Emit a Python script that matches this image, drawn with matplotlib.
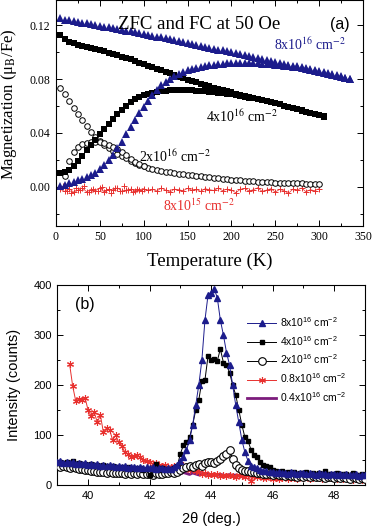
import numpy as np
import matplotlib
matplotlib.use('Agg')
import matplotlib.pyplot as plt
from matplotlib.ticker import MultipleLocator, FormatStrFormatter
from matplotlib.lines import Line2D

plt.rcParams['mathtext.fontset'] = 'custom'
plt.rcParams['mathtext.rm'] = 'Liberation Sans'
plt.rcParams['mathtext.it'] = 'Liberation Sans:italic'

# ---- panel (a): magnetization vs temperature ----
t_blue = np.arange(5, 336, 5)
m_blue_fc = [.1250, .1242, .1238, .1231, .1226, .1219, .1215, .1208, .1203, .1196,
             .1190, .1185, .1178, .1172, .1166, .1159, .1154, .1147, .1141, .1135,
             .1128, .1122, .1115, .1109, .1102, .1096, .1089, .1082, .1075, .1068,
             .1061, .1054, .1047, .1040, .1033, .1026, .1019, .1012, .1005, .0998,
             .0991, .0984, .0977, .0970, .0963, .0956, .0949, .0942, .0935, .0928,
             .0921, .0914, .0907, .0900, .0893, .0886, .0879, .0872, .0865, .0858,
             .0851, .0843, .0835, .0827, .0819, .0811, .0803]
m_blue_zfc = [.0005, .0015, .0025, .0035, .0048, .0060, .0070, .0085, .0105, .0130,
              .0160, .0195, .0235, .0285, .0335, .0390, .0440, .0495, .0545, .0590,
              .0635, .0680, .0720, .0752, .0778, .0800, .0820, .0837, .0852, .0864,
              .0874, .0883, .0891, .0898, .0903, .0907, .0911, .0914, .0916, .0918,
              .0919, .0920, .0920, .0920, .0919, .0917, .0915, .0912, .0909, .0906,
              .0902, .0899, .0895, .0890, .0886, .0880, .0874, .0868, .0862, .0855,
              .0848, .0840, .0833, .0825, .0817, .0809, .0801]

t_black = np.arange(5, 306, 5)
m_black_fc = [.1124, .1095, .1078, .1065, .1055, .1047, .1040, .1033, .1024, .1015,
              .1005, .0995, .0986, .0976, .0966, .0956, .0945, .0934, .0922, .0911,
              .0899, .0887, .0876, .0865, .0853, .0842, .0830, .0818, .0807, .0795,
              .0785, .0775, .0765, .0755, .0745, .0735, .0725, .0716, .0708, .0700,
              .0692, .0684, .0676, .0668, .0660, .0652, .0644, .0636, .0628, .0620,
              .0611, .0602, .0593, .0584, .0575, .0566, .0557, .0548, .0539, .0530,
              .0521]
m_black_zfc = [.0105, .0108, .0125, .0150, .0190, .0230, .0272, .0312, .0350, .0390,
               .0430, .0468, .0505, .0540, .0573, .0602, .0627, .0648, .0665, .0679,
               .0690, .0699, .0706, .0711, .0714, .0716, .0717, .0718, .0718, .0717,
               .0716, .0714, .0712, .0709, .0706, .0703, .0699, .0695, .0690, .0685,
               .0680, .0674, .0668, .0662, .0656, .0650, .0643, .0636, .0629, .0621,
               .0612, .0603, .0594, .0585, .0576, .0567, .0558, .0549, .0540, .0531,
               .0522]

t_circ = np.arange(5, 301, 5)
m_circ_fc = [.0736, .0690, .0635, .0585, .0540, .0495, .0450, .0410, .0372, .0340,
             .0310, .0285, .0262, .0243, .0226, .0210, .0194, .0176, .0162, .0150,
             .0140, .0131, .0123, .0117, .0111, .0106, .0101, .0097, .0092, .0088,
             .0084, .0080, .0077, .0073, .0069, .0066, .0062, .0058, .0055, .0052,
             .0049, .0046, .0043, .0041, .0039, .0037, .0035, .0034, .0032, .0031,
             .0030, .0029, .0028, .0027, .0026, .0024, .0023, .0022, .0021, .0019]
t_circ_zfc = np.arange(10, 101, 5)
m_circ_zfc = [.0080, .0190, .0260, .0295, .0315, .0326, .0332, .0334, .0331, .0322,
              .0310, .0295, .0278, .0258, .0236, .0205, .0185, .0168, .0152]

t_red = np.arange(5, 301, 5)
m_red_fc = [-.0020, -.0035, -.0015, -.0040, -.0025, -.0010, -.0038, -.0022, -.0030, -.0012,
            -.0042, -.0020, -.0028, -.0008, -.0035, -.0025, -.0018, -.0030, -.0022, -.0015,
            -.0028, -.0020, -.0032, -.0010, -.0025, -.0040, -.0018, -.0022, -.0030, -.0012,
            -.0026, -.0020, -.0035, -.0015, -.0022, -.0028, -.0010, -.0030, -.0018, -.0025,
            -.0045, -.0020, -.0012, -.0032, -.0022, -.0008, -.0035, -.0025, -.0015, -.0040,
            -.0020, -.0030, -.0050, -.0018, -.0025, -.0010, -.0038, -.0022, -.0030, -.0015]
t_red_zfc = np.arange(7.5, 98, 5)
m_red_zfc = [.0005, -.0030, -.0045, -.0010, -.0025, .0008, -.0040, -.0018, -.0032, -.0005,
             -.0028, -.0048, -.0012, -.0035, .0002, -.0022, -.0040, -.0015, -.0030]

# ---- panel (b): XRD scans ----
two_theta = np.round(np.arange(39.0, 49.01, 0.1), 1)
i_8e16 = [45, 47, 44, 46, 43, 45, 42, 44, 41, 43,
          40, 42, 39, 41, 38, 40, 37, 39, 38, 36,
          37, 35, 38, 34, 36, 35, 33, 36, 34, 35,
          33, 35, 32, 34, 33, 31, 34, 32, 35, 40,
          48, 55, 70, 90, 120, 160, 200, 250, 330, 380,
          385, 392, 375, 330, 300, 265, 240, 200, 160, 125,
          90, 65, 48, 38, 35, 33, 30, 28, 27, 25,
          26, 24, 25, 23, 24, 22, 25, 23, 22, 24,
          23, 21, 24, 22, 20, 23, 21, 22, 20, 21,
          22, 20, 21, 19, 22, 20, 19, 21, 18, 20,
          19]
i_4e16 = [44, 46, 43, 45, 42, 47, 41, 44, 40, 42,
          39, 41, 38, 40, 36, 39, 37, 35, 38, 36,
          34, 36, 33, 35, 32, 34, 31, 33, 30, 32,
          20, 31, 42, 30, 33, 29, 32, 30, 34, 38,
          62, 80, 85, 95, 120, 150, 170, 208, 210, 258,
          250, 252, 248, 272, 245, 240, 225, 200, 180, 150,
          120, 95, 88, 70, 60, 55, 45, 40, 38, 35,
          30, 27, 25, 28, 24, 26, 23, 25, 22, 24,
          23, 25, 22, 24, 21, 23, 20, 28, 22, 21,
          20, 23, 19, 22, 21, 18, 24, 20, 19, 22,
          20]
i_2e16 = [38, 36, 37, 35, 34, 36, 33, 32, 31, 30,
          29, 28, 27, 26, 25, 26, 24, 25, 23, 24,
          23, 24, 22, 23, 22, 24, 21, 23, 22, 21,
          22, 20, 23, 21, 22, 24, 23, 25, 24, 26,
          30, 34, 36, 38, 36, 40, 42, 38, 44, 45,
          46, 44, 48, 52, 58, 62, 70, 52, 40, 33,
          30, 28, 27, 26, 25, 24, 23, 22, 21, 22,
          20, 21, 19, 20, 18, 19, 17, 18, 16, 17,
          16, 18, 15, 17, 16, 15, 17, 14, 16, 15,
          14, 16, 13, 15, 14, 12, 15, 13, 12, 14,
          12]
i_04e16 = [42, 40, 41, 38, 40, 37, 39, 36, 38, 35,
           34, 36, 33, 35, 32, 30, 33, 31, 29, 32,
           30, 28, 31, 29, 27, 30, 28, 26, 29, 27,
           26, 28, 25, 27, 24, 26, 25, 23, 26, 24,
           22, 25, 23, 21, 24, 22, 20, 23, 21, 22,
           20, 22, 19, 21, 20, 18, 21, 19, 20, 18,
           19, 17, 20, 18, 19, 17, 18, 16, 19, 17,
           18, 16, 17, 19, 16, 18, 15, 17, 16, 18,
           16, 15, 17, 16, 14, 17, 15, 16, 14, 15,
           16, 14, 15, 13, 16, 14, 15, 13, 14, 12,
           14]
two_theta_red = np.round(np.arange(39.4, 49.01, 0.1), 1)
i_08e16 = [242, 198, 168, 172, 170, 175,
           150, 138, 146, 125, 140, 105, 114, 110, 90, 100,
           85, 78, 65, 62, 56, 58, 60, 55, 50, 48,
           45, 42, 44, 40, 38, 40, 36, 35, 38, 34,
           36, 40, 33, 30, 32, 28, 25, 22, 24, 20,
           22, 19, 21, 18, 20, 17, 19, 18, 16, 20,
           18, 16, 19, 8, 17, 15, 18, 14, 13, 15,
           12, 14, 11, 13, 15, 12, 14, 13, 11, 15,
           13, 16, 12, 14, 15, 13, 12, 16, 14, 13,
           15, 12, 14, 11, 13, 12, 10, 13, 11, 10,
           9]

navy = '#1c1c8c'
red = '#e8302e'
purple = '#7c1c7c'

fig = plt.figure(figsize=(3.72, 5.29), dpi=100)
ax1 = fig.add_axes([0.1505, 0.5733, 0.8253, 0.4262])
ax2 = fig.add_axes([0.154, 0.0832, 0.827, 0.378])

serif = 'Liberation Serif'
sans = 'Liberation Sans'

# top panel
ax1.plot(t_red, m_red_fc, color=red, marker='+', ms=4, mew=0.7, lw=0.5)
ax1.plot(t_red_zfc, m_red_zfc, color=red, marker='+', ms=4, mew=0.7, lw=0)
ax1.plot(t_circ, m_circ_fc, ls='none', marker='o', ms=4, mfc='white', mec='black', mew=0.7)
ax1.plot(t_circ_zfc, m_circ_zfc, ls='none', marker='o', ms=4, mfc='white', mec='black', mew=0.7)
ax1.plot(t_black, m_black_fc, ls='none', marker='s', ms=4.2, color='black', mew=0)
ax1.plot(t_black, m_black_zfc, ls='none', marker='s', ms=4.2, color='black', mew=0)
ax1.plot(t_blue, m_blue_fc, ls='none', marker='^', ms=5.2, color=navy, mew=0)
ax1.plot(t_blue, m_blue_zfc, ls='none', marker='^', ms=5.2, color=navy, mew=0)

ax1.set_xlim(0, 350)
ax1.set_ylim(-0.029, 0.1385)
ax1.xaxis.set_major_locator(MultipleLocator(50))
ax1.xaxis.set_minor_locator(MultipleLocator(25))
ax1.yaxis.set_major_locator(MultipleLocator(0.04))
ax1.yaxis.set_minor_locator(MultipleLocator(0.02))
ax1.yaxis.set_major_formatter(FormatStrFormatter('%.2f'))
ax1.set_xlabel('Temperature (K)', fontsize=13.5, family=serif)
ax1.set_ylabel('Magnetization (\u03bc$_\\mathrm{B}$/Fe)', fontsize=12, family=serif,
               math_fontfamily='stix')
ax1.xaxis.set_label_coords(0.5, -0.121)
ax1.yaxis.set_label_coords(-0.12, 0.541)

ax1.text(163, 0.1173, 'ZFC and FC at 50 Oe', fontsize=13.5, family=serif,
         ha='center', va='baseline')
ax1.text(323, 0.1173, '(a)', fontsize=11.5, family=sans, ha='center', va='baseline')
ax1.text(249, 0.1013, '8x10$^{16}$ cm$^{-2}$', fontsize=10, family=serif, color=navy,
         va='baseline', math_fontfamily='stix')
ax1.text(171, 0.0481, '4x10$^{16}$ cm$^{-2}$', fontsize=10, family=serif, color='black',
         va='baseline', math_fontfamily='stix')
ax1.text(95, 0.0185, '2x10$^{16}$ cm$^{-2}$', fontsize=10, family=serif, color='black',
         va='baseline', math_fontfamily='stix')
ax1.text(122, -0.0178, '8x10$^{15}$ cm$^{-2}$', fontsize=10, family=serif, color=red,
         va='baseline', math_fontfamily='stix')

# bottom panel
ax2.plot(two_theta, i_04e16, color=purple, lw=2, zorder=2)
ax2.plot(two_theta_red, i_08e16, color=red, lw=0.7, marker=(6, 2, 0), ms=5, mew=0.8, zorder=3)
ax2.plot(two_theta, i_2e16, color='black', lw=0.7, marker='o', ms=5.5, mfc='white',
         mec='black', mew=0.8, zorder=4)
ax2.plot(two_theta, i_4e16, color='black', lw=0.7, marker='s', ms=3.3, zorder=5)
ax2.plot(two_theta, i_8e16, color=navy, lw=0.7, marker='^', ms=4.5, zorder=6)

ax2.set_xlim(39, 49)
ax2.set_ylim(0, 400)
ax2.xaxis.set_major_locator(MultipleLocator(2))
ax2.xaxis.set_minor_locator(MultipleLocator(1))
ax2.yaxis.set_major_locator(MultipleLocator(100))
ax2.yaxis.set_minor_locator(MultipleLocator(50))
ax2.set_xlabel('2\u03b8 (deg.)', fontsize=10.5, family=sans)
ax2.set_ylabel('Intensity (counts)', fontsize=10.5, family=sans)
ax2.xaxis.set_label_coords(0.5, -0.135)
ax2.yaxis.set_label_coords(-0.118, 0.5)
ax2.text(0.09, 0.905, '(b)', transform=ax2.transAxes, fontsize=11.5, family=sans,
         ha='center', va='center')

handles = [
    Line2D([], [], color=navy, lw=0.7, marker='^', ms=4.5),
    Line2D([], [], color='black', lw=0.7, marker='s', ms=3.3),
    Line2D([], [], color='black', lw=0.7, marker='o', ms=5.5, mfc='white', mec='black', mew=0.8),
    Line2D([], [], color=red, lw=0.7, marker=(6, 2, 0), ms=5, mew=0.8),
    Line2D([], [], color=purple, lw=2),
]
labels = ['8x10$^{16}$ cm$^{-2}$', '4x10$^{16}$ cm$^{-2}$', '2x10$^{16}$ cm$^{-2}$',
          '0.8x10$^{16}$ cm$^{-2}$', '0.4x10$^{16}$ cm$^{-2}$']
ax2.legend(handles, labels, loc='upper left', bbox_to_anchor=(0.6165, 0.85),
           frameon=False, prop={'family': sans, 'size': 7.5}, handlelength=2.8,
           handletextpad=0.4, labelspacing=0.48, borderaxespad=0, borderpad=0)

for ax, fam, fs in [(ax1, serif, 8.5), (ax2, sans, 8)]:
    ax.tick_params(which='both', direction='in', top=True, right=True, width=0.7)
    ax.tick_params(which='major', length=4, labelsize=fs, pad=4)
    ax.tick_params(which='minor', length=2)
    for lab in ax.get_xticklabels() + ax.get_yticklabels():
        lab.set_family(fam)
    for sp in ax.spines.values():
        sp.set_linewidth(0.8)

fig.savefig('out.png', dpi=100)
